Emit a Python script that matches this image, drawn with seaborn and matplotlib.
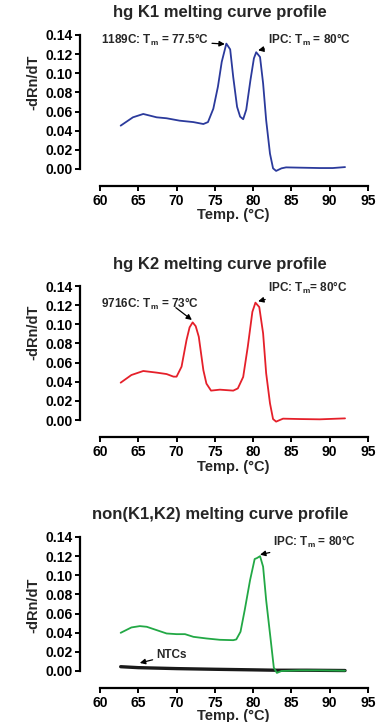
import matplotlib
matplotlib.use("Agg")
import matplotlib.pyplot as plt
import seaborn as sns
import pandas as pd

# ---------------- data ----------------
k1_temp = [62.7, 64.3, 65.65, 67.4, 68.7, 70.4, 72.2, 73.5, 74.1, 74.8, 75.4, 75.9, 76.5, 77.0,
           77.4, 77.9, 78.3, 78.7, 79.1, 79.65, 80.1, 80.4, 80.9, 81.3, 81.7, 82.2, 82.6, 83.0,
           83.7, 84.3, 86.1, 88.7, 90.4, 92.0]
k1_val = [0.0453, 0.054, 0.0575, 0.054, 0.053, 0.0505, 0.049, 0.047, 0.049, 0.063, 0.086, 0.112,
          0.131, 0.125, 0.096, 0.065, 0.0547, 0.052, 0.062, 0.093, 0.1156, 0.122, 0.117, 0.0895,
          0.051, 0.016, 0.0007, -0.002, 0.0007, 0.0017, 0.0014, 0.001, 0.001, 0.002]

k2_temp = [62.7, 64.1, 65.65, 67.4, 68.7, 69.6, 70.0, 70.65, 71.3, 71.7, 72.1, 72.5, 72.9, 73.5,
           73.9, 74.5, 75.65, 77.4, 78.0, 78.7, 79.3, 79.9, 80.3, 80.8, 81.3, 81.7, 82.2, 82.6,
           83.0, 83.9, 86.1, 88.7, 92.0]
k2_val = [0.039, 0.047, 0.0512, 0.0495, 0.048, 0.0453, 0.0453, 0.0557, 0.0836, 0.0968, 0.102,
          0.098, 0.087, 0.052, 0.038, 0.0307, 0.0317, 0.0307, 0.033, 0.045, 0.0766, 0.113, 0.1226,
          0.118, 0.0906, 0.0488, 0.0174, 0.001, -0.0017, 0.0014, 0.001, 0.0007, 0.0017]

non_temp = [62.7, 64.1, 65.2, 66.1, 67.4, 68.7, 70.0, 71.1, 72.2, 73.9, 75.65, 77.4, 77.8, 78.35,
            78.9, 79.6, 80.2, 80.5, 80.9, 81.3, 81.7, 82.3, 82.7, 83.1, 83.7, 86.1, 88.7, 92.0]
non_val = [0.0399, 0.0455, 0.0469, 0.0462, 0.0427, 0.0392, 0.0385, 0.0385, 0.0357, 0.034, 0.0326,
           0.0322, 0.033, 0.041, 0.0637, 0.095, 0.117, 0.118, 0.12, 0.109, 0.074, 0.032, 0.0035,
           -0.002, 0.0, 0.0007, 0.0007, 0.0003]

ntc_temp = [62.7, 65.0, 70.0, 75.0, 80.0, 83.0, 87.0, 92.0]
ntc_val = [0.0045, 0.0035, 0.0025, 0.0018, 0.0012, 0.0008, 0.0008, 0.0005]

titles = ["hg K1 melting curve profile", "hg K2 melting curve profile",
          "non(K1,K2) melting curve profile"]
x_ticks = [60, 65, 70, 75, 80, 85, 90, 95]
y_ticks = [0.00, 0.02, 0.04, 0.06, 0.08, 0.10, 0.12, 0.14]
x_label = "Temp. (°C)"
y_label = "-dRn/dT"

# ---------------- style ----------------
sns.set_style("ticks")
plt.rcParams["font.family"] = ["Liberation Sans", "DejaVu Sans"]
plt.rcParams["font.weight"] = "bold"
plt.rcParams["mathtext.fontset"] = "custom"
plt.rcParams["mathtext.rm"] = "Liberation Sans:bold"
plt.rcParams["mathtext.bf"] = "Liberation Sans:bold"
plt.rcParams["mathtext.default"] = "rm"

W, H = 387, 722
fig = plt.figure(figsize=(W / 100, H / 100), dpi=100)

# pixel layout: (y of 0.14, y of 0.00, y of x axis, title y, ylabel y, xlabel y)
layout = [
    (35, 169, 186, 13, 82, 215),
    (286, 420, 437, 265, 332, 467),
    (537, 671, 688, 515, 605, 716),
]
x0, x1 = 100, 368
ybot = -0.005
colors = ["#2B3A9C", "#E5202A", "#22A845"]
series = [(k1_temp, k1_val), (k2_temp, k2_val), (non_temp, non_val)]

axes = []
for i, (ytop_px, yzero_px, xaxis_px, ttl_y, yl_y, xl_y) in enumerate(layout):
    ppu = (yzero_px - ytop_px) / 0.14
    ybot_px = yzero_px + (-ybot) * ppu
    ax = fig.add_axes([x0 / W, (H - ybot_px) / H, (x1 - x0) / W, (ybot_px - ytop_px) / H])
    axes.append(ax)
    t, v = series[i]
    df = pd.DataFrame({"T": t, "v": v})
    if i == 2:
        ndf = pd.DataFrame({"T": ntc_temp, "v": ntc_val})
        sns.lineplot(data=ndf, x="T", y="v", ax=ax, color="#1a1a1a", lw=2.4)
    sns.lineplot(data=df, x="T", y="v", ax=ax, color=colors[i], lw=1.3)
    ax.set_xlim(60, 95)
    ax.set_ylim(ybot, 0.14)
    ax.set_xticks(x_ticks)
    ax.set_yticks(y_ticks)
    ax.set_xticklabels([str(x) for x in x_ticks], fontsize=9.5, fontweight="bold")
    ax.set_yticklabels([f"{y:.2f}" for y in y_ticks], fontsize=9.5, fontweight="bold")
    ax.set_xlabel("")
    ax.set_ylabel("")
    for s in ["top", "right"]:
        ax.spines[s].set_visible(False)
    ax.spines["left"].set_position(("outward", 20 * 0.72))
    ax.spines["left"].set_bounds(0, 0.14)
    ax.spines["bottom"].set_position(("outward", (xaxis_px - ybot_px) * 0.72))
    for s in ["left", "bottom"]:
        ax.spines[s].set_linewidth(1.6)
        ax.spines[s].set_color("black")
    ax.tick_params(axis="both", width=1.4, length=3.5, pad=2, colors="black")
    fig.text(220 / W, 1 - ttl_y / H, titles[i], ha="center", va="center",
             fontsize=12, fontweight="bold")
    fig.text(33 / W, 1 - yl_y / H, y_label, ha="center", va="center", rotation=90,
             fontsize=10.5, fontweight="bold")
    fig.text(233 / W, 1 - xl_y / H, x_label, ha="center", va="center",
             fontsize=10.5, fontweight="bold")

arrow = dict(arrowstyle="-|>", color="black", lw=0.9, mutation_scale=8,
             shrinkA=0, shrinkB=0)
fs_ann = 8.5

axes[0].annotate(r"1189C: T$_{m}$ = 77.5°C", xy=(76.3, 0.1305), xytext=(74.2, 0.135),
                 ha="right", va="center", fontsize=fs_ann, fontweight="bold", arrowprops=arrow)
axes[0].annotate(r"IPC: T$_{m}$ = 80°C", xy=(80.65, 0.124), xytext=(81.9, 0.135),
                 ha="left", va="center", fontsize=fs_ann, fontweight="bold", arrowprops=arrow)

axes[1].annotate("", xy=(72.0, 0.1045), xytext=(69.9, 0.1174), arrowprops=arrow)
axes[1].text(66.5, 0.1216, r"9716C: T$_{m}$ = 73°C", ha="center", va="center",
             fontsize=fs_ann, fontweight="bold")
axes[1].annotate(r"IPC: T$_{m}$= 80°C", xy=(80.65, 0.124), xytext=(82.0, 0.1376),
                 ha="left", va="center", fontsize=fs_ann, fontweight="bold", arrowprops=arrow)

axes[2].annotate(r"IPC: T$_{m}$ = 80°C", xy=(80.9, 0.1215), xytext=(82.6, 0.1344),
                 ha="left", va="center", fontsize=fs_ann, fontweight="bold", arrowprops=arrow)
axes[2].annotate("NTCs", xy=(65.2, 0.0084), xytext=(67.3, 0.0165),
                 ha="left", va="center", fontsize=fs_ann, fontweight="bold", arrowprops=arrow)

fig.savefig("out.png", dpi=100)
